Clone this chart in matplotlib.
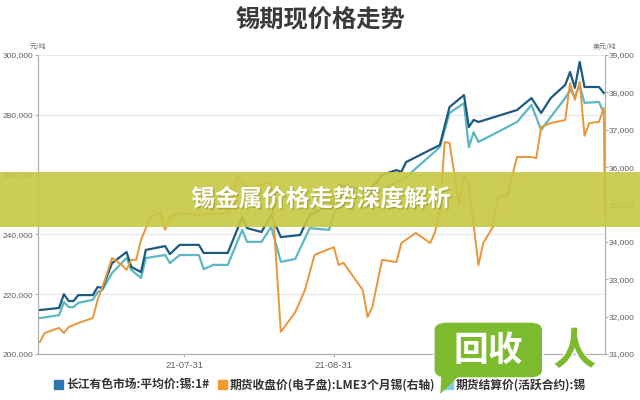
import matplotlib
matplotlib.use('Agg')
import matplotlib.pyplot as plt
import matplotlib.patheffects as pe
import pandas as pd
from matplotlib.patches import Rectangle, FancyBboxPatch, Patch, Polygon
from matplotlib.ticker import FuncFormatter, FixedLocator

plt.rcParams['font.family'] = ['Noto Sans CJK SC', 'DejaVu Sans']

title = '锡期现价格走势'
overlay_title = '锡金属价格走势深度解析'
left_unit = '元/吨'
right_unit = '美元/吨'
series_names = ['长江有色市场:平均价:锡:1#',
                '期货收盘价(电子盘):LME3个月锡(右轴)',
                '期货结算价(活跃合约):锡']
xtick_dates = ['2021-07-31', '2021-08-31']
xtick_labels = ['21-07-31', '21-08-31']
left_ticks = [200000, 220000, 240000, 260000, 280000, 300000]
right_ticks = [31000, 32000, 33000, 34000, 35000, 36000, 37000, 38000, 39000]

# 长江有色市场:平均价:锡:1#
cj_dates = ['2021-07-01', '2021-07-05', '2021-07-06', '2021-07-07', '2021-07-08', '2021-07-09',
            '2021-07-12', '2021-07-13', '2021-07-14', '2021-07-16', '2021-07-19', '2021-07-20',
            '2021-07-22', '2021-07-23', '2021-07-27', '2021-07-28', '2021-07-30', '2021-08-03',
            '2021-08-04', '2021-08-09', '2021-08-12', '2021-08-13', '2021-08-16', '2021-08-18',
            '2021-08-20', '2021-08-24', '2021-08-26', '2021-08-31', '2021-09-01', '2021-09-07',
            '2021-09-09', '2021-09-10', '2021-09-13', '2021-09-14', '2021-09-15', '2021-09-22',
            '2021-09-24', '2021-09-27', '2021-09-28', '2021-09-29', '2021-09-30', '2021-10-08',
            '2021-10-11', '2021-10-13', '2021-10-15', '2021-10-18', '2021-10-19', '2021-10-20',
            '2021-10-21', '2021-10-22', '2021-10-25', '2021-10-26']
cj_values = [214700, 215400, 220000, 217700, 217700, 219700,
             219700, 222400, 222100, 230400, 234100, 229100,
             227400, 234800, 236100, 233400, 236500, 236500,
             233800, 233800, 245800, 242100, 240800, 246500,
             239100, 239800, 246500, 250500, 256500, 254800,
             257500, 259900, 261500, 260900, 264200, 269900,
             282600, 286600, 275900, 278300, 277600, 281600,
             285600, 280600, 285600, 290000, 294300, 289000,
             297700, 289300, 289300, 287300]

# 期货结算价(活跃合约):锡
fut_dates = ['2021-07-01', '2021-07-05', '2021-07-06', '2021-07-07', '2021-07-08', '2021-07-09',
             '2021-07-12', '2021-07-13', '2021-07-14', '2021-07-16', '2021-07-19', '2021-07-20',
             '2021-07-22', '2021-07-23', '2021-07-27', '2021-07-28', '2021-07-30', '2021-08-03',
             '2021-08-04', '2021-08-06', '2021-08-09', '2021-08-12', '2021-08-13', '2021-08-16',
             '2021-08-18', '2021-08-20', '2021-08-23', '2021-08-26', '2021-08-30', '2021-09-01',
             '2021-09-07', '2021-09-10', '2021-09-15', '2021-09-22', '2021-09-24', '2021-09-27',
             '2021-09-28', '2021-09-29', '2021-09-30', '2021-10-08', '2021-10-11', '2021-10-13',
             '2021-10-15', '2021-10-18', '2021-10-19', '2021-10-20', '2021-10-21', '2021-10-22',
             '2021-10-25', '2021-10-26']
fut_values = [212000, 213000, 217400, 215700, 215700, 217100,
              218100, 220700, 221400, 227100, 232100, 228100,
              225400, 232100, 233100, 230400, 233100, 233100,
              228400, 229800, 229800, 241500, 237500, 237500,
              242500, 230800, 231800, 242100, 241500, 252500,
              253800, 254800, 259200, 269200, 280600, 283900,
              269200, 274200, 270900, 277600, 283300, 274900,
              279300, 285600, 288300, 286000, 290000, 284000,
              284300, 280600]

# 期货收盘价(电子盘):LME3个月锡 (右轴)
lme_dates = ['2021-07-01', '2021-07-02', '2021-07-05', '2021-07-06', '2021-07-07', '2021-07-09',
             '2021-07-12', '2021-07-13', '2021-07-14', '2021-07-16', '2021-07-18', '2021-07-19',
             '2021-07-20', '2021-07-21', '2021-07-22', '2021-07-23', '2021-07-24', '2021-07-26',
             '2021-07-27', '2021-07-28', '2021-07-30', '2021-08-02', '2021-08-09', '2021-08-11',
             '2021-08-13', '2021-08-16', '2021-08-17', '2021-08-18', '2021-08-20', '2021-08-23',
             '2021-08-25', '2021-08-27', '2021-08-31', '2021-09-01', '2021-09-02', '2021-09-06',
             '2021-09-07', '2021-09-08', '2021-09-10', '2021-09-13', '2021-09-14', '2021-09-17',
             '2021-09-20', '2021-09-21', '2021-09-22', '2021-09-23', '2021-09-24', '2021-09-26',
             '2021-09-27', '2021-09-28', '2021-09-30', '2021-10-01', '2021-10-03', '2021-10-04',
             '2021-10-06', '2021-10-08', '2021-10-11', '2021-10-12', '2021-10-13', '2021-10-15',
             '2021-10-18', '2021-10-19', '2021-10-20', '2021-10-21', '2021-10-22', '2021-10-23',
             '2021-10-25', '2021-10-26', '2021-10-26 05:00']
lme_values = [31320, 31560, 31700, 31560, 31720, 31830,
              31960, 32450, 32790, 33570, 33380, 33250,
              33520, 33520, 34050, 34370, 34670, 34770,
              34320, 34670, 34770, 34720, 34770, 35740,
              35440, 35520, 35580, 35600, 31590, 32120,
              32710, 33650, 33860, 33380, 33440, 32710,
              31990, 32260, 33520, 33460, 33970, 34240,
              33970, 34260, 34850, 36670, 36650, 34990,
              35790, 35520, 33380, 33970, 34400, 35200,
              35250, 36270, 36270, 36240, 37070, 37180,
              37260, 38250, 37800, 38280, 36840, 37180,
              37210, 37580, 34780]

x_start = '2021-06-30 14:00'
x_end = '2021-10-26 05:00'

c_cj = '#1d5a80'
c_fut = '#5cb7c2'
c_lme = '#ea9638'


def to_dt(lst):
    return pd.to_datetime(lst, format='ISO8601')


fig = plt.figure(figsize=(6.4, 4.0), dpi=100)
fig.patch.set_facecolor('white')
ax = fig.add_axes([0.059, 0.115, 0.886, 0.7475])
ax2 = ax.twinx()

ax.plot(to_dt(cj_dates), cj_values, color=c_cj, lw=1.6, zorder=3)
ax.plot(to_dt(fut_dates), fut_values, color=c_fut, lw=1.6, zorder=2)
ax2.plot(to_dt(lme_dates), lme_values, color=c_lme, lw=1.4, zorder=2)

ax.set_xlim(pd.Timestamp(x_start), pd.Timestamp(x_end))
ax.set_ylim(left_ticks[0], left_ticks[-1])
ax2.set_ylim(right_ticks[0], right_ticks[-1])
ax.yaxis.set_major_locator(FixedLocator(left_ticks))
ax2.yaxis.set_major_locator(FixedLocator(right_ticks))
fmt = FuncFormatter(lambda v, p: f'{int(v):,}')
ax.yaxis.set_major_formatter(fmt)
ax2.yaxis.set_major_formatter(fmt)
ax.set_xticks(to_dt(xtick_dates))
ax.set_xticklabels(xtick_labels)

ax.grid(axis='y', color='#e8e8ec', lw=0.9)
ax.set_axisbelow(True)
for a in (ax, ax2):
    a.spines['top'].set_visible(False)
    a.spines['left'].set_color('#b0b0b0')
    a.spines['right'].set_color('#b0b0b0')
    a.spines['bottom'].set_color('#b0b0b0')
    a.tick_params(axis='both', colors='#b0b0b0', labelcolor='#606060', labelsize=6,
                  length=2.0, width=0.8, pad=1.0)
ax.tick_params(axis='x', labelsize=6.8, pad=3)
for lab in ax.get_yticklabels() + ax2.get_yticklabels() + ax.get_xticklabels():
    lab.set_family(['Liberation Sans'])

ax.text(0, 1.012, left_unit, transform=ax.transAxes, ha='center', va='bottom',
        fontsize=5, color='#707070')
ax2.text(1, 1.012, right_unit, transform=ax2.transAxes, ha='center', va='bottom',
         fontsize=5, color='#707070')

fig.text(0.5, 0.948, title, ha='center', va='center', fontsize=17.5,
         fontweight='bold', color='#3a3a3a')

handles = [Patch(color='#2a78ad'), Patch(color='#f29a2e'), Patch(color='#86cbe0')]
fig.legend(handles, series_names, loc='center', bbox_to_anchor=(0.5, 0.038), ncol=3,
           frameon=False, handlelength=0.8, handleheight=0.8, handletextpad=0.25,
           columnspacing=0.7, prop={'size': 8.5, 'weight': 'bold'}, labelcolor='#333333')

# overlay band
band = Rectangle((0, 0.4325), 1, 0.1375, transform=fig.transFigure,
                 facecolor='#c7c842', alpha=0.9, edgecolor='none', zorder=10)
fig.add_artist(band)
fig.text(0.502, 0.502, overlay_title, ha='center', va='center', fontsize=17,
         fontweight='bold', color='white', zorder=11,
         path_effects=[pe.withSimplePatchShadow(offset=(1, -1), shadow_rgbFace='#8a8a20', alpha=0.5)])

# watermark
wm = FancyBboxPatch((0.683, 0.06), 0.16, 0.13, boxstyle='round,pad=0.005,rounding_size=0.02',
                    transform=fig.transFigure, facecolor='#7cba2e', edgecolor='white',
                    lw=1.0, zorder=12)
fig.add_artist(wm)
tail = Polygon([[0.69, 0.07], [0.72, 0.065], [0.688, 0.015]], closed=True,
               transform=fig.transFigure, facecolor='#7cba2e', edgecolor='none', zorder=12)
fig.add_artist(tail)
fig.text(0.763, 0.125, '回收', ha='center', va='center', fontsize=25, fontweight='bold',
         color='white', zorder=13)
fig.text(0.898, 0.122, '人', ha='center', va='center', fontsize=31, fontweight='bold',
         color='#7cba2e', zorder=13, style='italic',
         path_effects=[pe.withStroke(linewidth=2, foreground='white')])

fig.savefig('out.png', dpi=100)
